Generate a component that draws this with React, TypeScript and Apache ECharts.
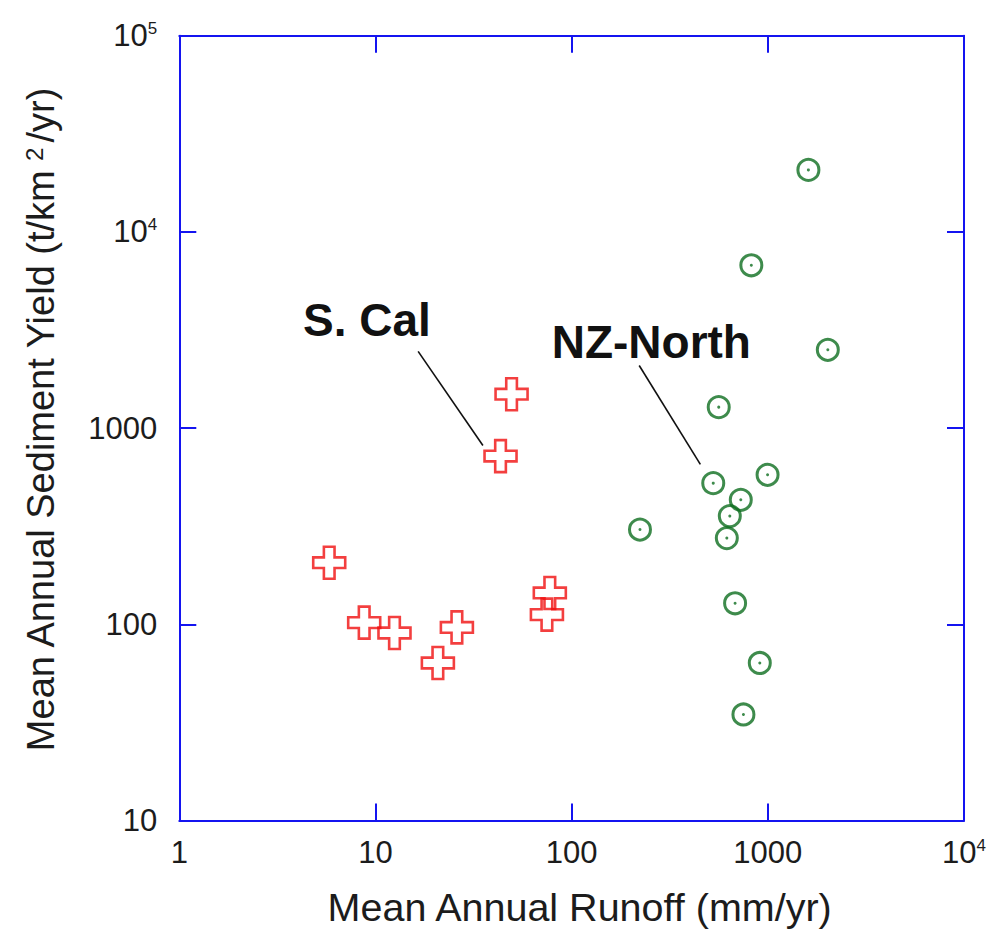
import React, { useEffect, useRef } from "react";
import * as echarts from "echarts";

// S. California basins: mean annual runoff (mm/yr) and sediment yield (t/km2/yr)
const sCalRunoff = [5.81, 8.76, 12.5, 20.8, 26.0, 77.4, 74.8, 43.4, 49.4];
const sCalYield = [206, 102, 90.3, 63.5, 96.4, 144.5, 112, 720, 1489];

// NZ-North basins
const nzRunoff = [1610, 824, 2022, 562, 997, 527, 728, 640, 618, 223, 681, 910, 751];
const nzYield = [20700, 6760, 2506, 1279, 578, 524, 431, 356, 275, 304, 128, 63.5, 34.7];

const xTickValues = [1, 10, 100, 1000, 10000];
const yTickValues = [10, 100, 1000, 10000, 100000];

const xTitle = "Mean Annual Runoff (mm/yr)";
const yTitleParts = ["Mean Annual Sediment Yield (t/km", "2", "/yr)"];

// annotation anchors in data space (runoff, yield)
const annoTexts = ["S. Cal", "NZ-North"];
const annoTextAt = [
  [4.27, 3548],
  [79.1, 2748],
];
const annoLineFrom = [
  [16.5, 2460],
  [221, 2085],
];
const annoLineTo = [
  [35.3, 816],
  [453, 653],
];

const BLUE = "#1414f0";
const RED = "#f00f0f";
const GREEN = "#0e6e1f";
const TEXT = "#1c1c1c";
const FONT = "'Liberation Sans', Arial, Helvetica, sans-serif";

const CROSS = "path://M1,0L2,0L2,1L3,1L3,2L2,2L2,3L1,3L1,2L0,2L0,1L1,1Z";

function fmtTick(v: number): string {
  const e = Math.round(Math.log10(v));
  if (e >= 4) return "{b|10}{s|" + e + "}";
  return "{b|" + String(Math.round(v)) + "}";
}

const richTick = {
  b: { fontSize: 31, lineHeight: 31, color: TEXT, fontFamily: FONT },
  s: { fontSize: 17, lineHeight: 17, color: TEXT, fontFamily: FONT, verticalAlign: "top" },
};

function axisCommon(extra: any) {
  return {
    type: "log",
    logBase: 10,
    splitNumber: 4,
    axisLine: { show: true, lineStyle: { color: BLUE, width: 2 } },
    axisTick: { show: true, inside: true, length: 17, lineStyle: { color: BLUE, width: 2 } },
    minorTick: { show: false },
    splitLine: { show: false },
    ...extra,
  };
}

export default function App() {
  const ref = useRef<HTMLDivElement>(null);
  useEffect(() => {
    if (!ref.current) return;
    const chart = echarts.init(ref.current, undefined, { renderer: "svg" });
    const sCalData = sCalRunoff.map((x, i) => [x, sCalYield[i]]);
    const nzData = nzRunoff.map((x, i) => [x, nzYield[i]]);
    const option: any = {
      animation: false,
      backgroundColor: "#ffffff",
      grid: { left: 179.3, top: 35.7, right: 30, bottom: 114.5, containLabel: false },
      xAxis: [
        axisCommon({
          min: 1,
          max: 10000,
          position: "bottom",
          name: xTitle,
          nameLocation: "middle",
          nameGap: 66,
          nameTextStyle: { fontSize: 39.5, color: TEXT, fontFamily: FONT, padding: [0, 0, 0, 16] },
          axisLabel: {
            show: true,
            margin: 16,
            formatter: (v: number) => fmtTick(v),
            rich: richTick,
            showMinLabel: true,
            showMaxLabel: true,
          },
        }),
        axisCommon({ min: 1, max: 10000, position: "top", axisLabel: { show: false } }),
      ],
      yAxis: [
        axisCommon({
          min: 10,
          max: 100000,
          position: "left",
          name: "{t|" + yTitleParts[0] + "}{s|" + yTitleParts[1] + "}{t|" + yTitleParts[2] + "}",
          nameLocation: "middle",
          nameRotate: 90,
          nameGap: 119,
          nameTextStyle: {
            fontSize: 38,
            color: TEXT,
            fontFamily: FONT,
            padding: [0, 0, 0, 16],
            rich: {
              t: { fontSize: 38, lineHeight: 38, color: TEXT, fontFamily: FONT },
              s: { fontSize: 24, lineHeight: 20, color: TEXT, fontFamily: FONT, verticalAlign: "top", padding: [0, 5, 6, 8] },
            },
          },
          axisLabel: {
            show: true,
            margin: 22,
            formatter: (v: number) => fmtTick(v),
            rich: richTick,
            showMinLabel: true,
            showMaxLabel: true,
          },
        }),
        axisCommon({ min: 10, max: 100000, position: "right", axisLabel: { show: false } }),
      ],
      series: [
        {
          type: "scatter",
          name: "S. Cal",
          data: sCalData,
          symbol: CROSS,
          symbolSize: 32,
          itemStyle: { color: "rgba(255,255,255,0)", borderColor: RED, borderWidth: 2.6 },
          z: 3,
        },
        {
          type: "scatter",
          name: "NZ-North",
          data: nzData,
          symbol: "circle",
          symbolSize: 21,
          itemStyle: { color: "rgba(255,255,255,0)", borderColor: GREEN, borderWidth: 3 },
          z: 3,
        },
        {
          type: "scatter",
          name: "NZ-North centres",
          data: nzData,
          symbol: "circle",
          symbolSize: 3,
          itemStyle: { color: GREEN },
          z: 4,
        },
      ],
    };
    chart.setOption(option);

    const graphics: any[] = [];
    for (let i = 0; i < annoTexts.length; i++) {
      const p = chart.convertToPixel({ gridIndex: 0 }, annoTextAt[i]) as number[];
      const a = chart.convertToPixel({ gridIndex: 0 }, annoLineFrom[i]) as number[];
      const b = chart.convertToPixel({ gridIndex: 0 }, annoLineTo[i]) as number[];
      graphics.push({
        type: "line",
        shape: { x1: a[0], y1: a[1], x2: b[0], y2: b[1] },
        style: { stroke: "#111", lineWidth: 1.6 },
        z: 10,
      });
      graphics.push({
        type: "text",
        x: p[0],
        y: p[1],
        style: {
          text: annoTexts[i],
          fontSize: 46,
          fontWeight: "bold",
          fontFamily: FONT,
          fill: "#111",
          textAlign: "left",
          textVerticalAlign: "middle",
          verticalAlign: "middle",
        },
        z: 10,
      });
    }
    chart.setOption({ graphic: graphics });

    return () => {
      chart.dispose();
    };
  }, []);
  return (
    <div
      ref={ref}
      style={{ position: "absolute", left: 0, top: 0, width: 994, height: 935, background: "#fff" }}
    />
  );
}
